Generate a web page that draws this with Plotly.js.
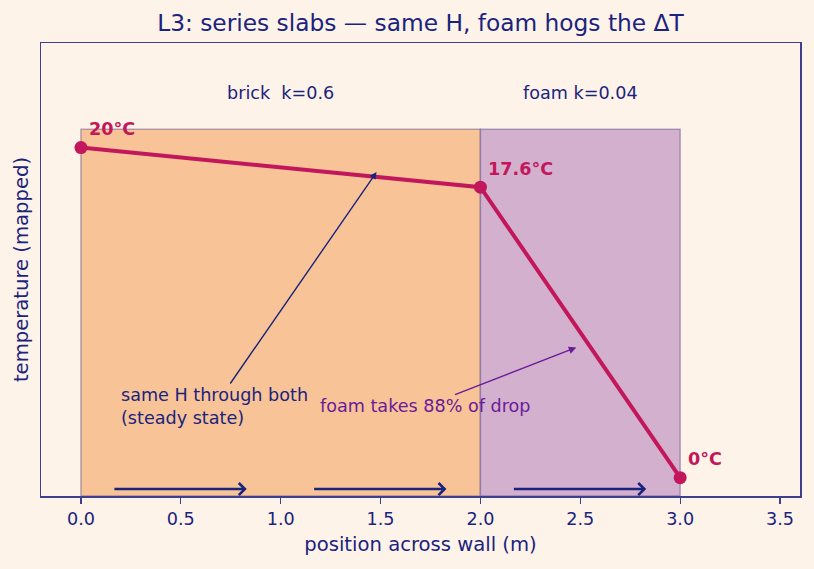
<!DOCTYPE html>
<html>
<head>
<meta charset="utf-8">
<script src="https://cdn.plot.ly/plotly-3.0.1.min.js"></script>
<style>html,body{margin:0;padding:0;background:#fef3e9;}#chart{width:814px;height:569px;}</style>
</head>
<body>
<div id="chart"></div>
<script>
// ---- data ----
const positions = [0, 2, 3];            // m across wall
const temps = [20, 17.6, 0];            // °C at interfaces
const tempLabels = ['20°C', '17.6°C', '0°C'];
const slabNames = ['brick\u00a0 k=0.6', 'foam k=0.04'];
const slabStart = [0, 2];
const slabEnd = [2, 3];
const xTicks = [0, 0.5, 1, 1.5, 2, 2.5, 3, 3.5];
const xTickText = ['0.0', '0.5', '1.0', '1.5', '2.0', '2.5', '3.0', '3.5'];

// ---- styling ----
const NAVY = '#1a237e';
const BG = '#fef3e9';
const LINE = '#c2185b';
const PURPLE = '#6a1b9a';
const slabFill = ['#f8c497', '#d4b0cf'];
const font = 'DejaVu Sans, sans-serif';
const FS = 17.6;

const mapT = t => 0.05 + 0.9 * t / 20;
const ys = temps.map(mapT);

const shapes = slabStart.map((s, i) => ({
  type: 'rect', xref: 'x', yref: 'y', x0: s, x1: slabEnd[i], y0: 0, y1: 1,
  fillcolor: slabFill[i], line: {color: 'rgba(90,70,140,0.45)', width: 1.5}, layer: 'below'
}));

const annotations = [];
slabNames.forEach((n, i) => annotations.push({
  xref: 'x', yref: 'y', x: (slabStart[i] + slabEnd[i]) / 2, y: 1.1, text: n, showarrow: false,
  font: {family: font, size: FS, color: NAVY}, xanchor: 'center', yanchor: 'middle'
}));
positions.forEach((p, i) => annotations.push({
  xref: 'x', yref: 'y', x: p + 0.03, y: ys[i] + 0.05, text: '<b>' + tempLabels[i] + '</b>', showarrow: false,
  font: {family: font, size: FS, color: LINE}, xanchor: 'left', yanchor: 'middle'
}));
// heat-flow arrows
[0, 1, 2].forEach(k => annotations.push({
  xref: 'x', yref: 'y', axref: 'x', ayref: 'y', x: k + 0.83, y: 0.019, ax: k + 0.16, ay: 0.019,
  text: '', showarrow: true, arrowhead: 4, arrowsize: 0.9, arrowwidth: 2.6, arrowcolor: NAVY, standoff: 0
}));
annotations.push({
  xref: 'x', yref: 'y', axref: 'x', ayref: 'y', x: 1.48, y: 0.883, ax: 0.668, ay: 0.244,
  text: '<span style="line-height:1">same H through both<br>(steady state)</span>', align: 'left', xanchor: 'center', yanchor: 'middle',
  showarrow: true, arrowhead: 2, arrowsize: 1, arrowwidth: 1.4, arrowcolor: NAVY,
  font: {family: font, size: FS, color: NAVY}
});
annotations.push({
  xref: 'x', yref: 'y', axref: 'x', ayref: 'y', x: 2.48, y: 0.405, ax: 1.725, ay: 0.245,
  text: 'foam takes 88% of drop', xanchor: 'center', yanchor: 'middle',
  showarrow: true, arrowhead: 2, arrowsize: 1, arrowwidth: 1.5, arrowcolor: PURPLE,
  font: {family: font, size: FS, color: PURPLE}
});

const trace = {
  x: positions, y: ys, type: 'scatter', mode: 'lines+markers',
  line: {color: LINE, width: 4}, marker: {color: LINE, size: 13}, hoverinfo: 'skip'
};

const layout = {
  width: 814, height: 569,
  paper_bgcolor: BG, plot_bgcolor: BG,
  margin: {l: 41, r: 14, t: 43, b: 73},
  showlegend: false,
  font: {family: font, color: NAVY},
  title: {text: 'L3: series slabs — same H, foam hogs the ΔT', font: {family: font, size: 23.3, color: NAVY},
          x: 0.5165, xanchor: 'center', y: 0.96, yanchor: 'middle'},
  xaxis: {
    range: [-0.2, 3.6], tickvals: xTicks, ticktext: xTickText, ticks: 'outside', ticklen: 6, tickwidth: 1.3,
    tickcolor: '#3d3f8f', tickfont: {family: font, size: FS, color: NAVY},
    showgrid: false, zeroline: false, showline: true, mirror: true, linecolor: '#3d3f8f', linewidth: 1.5,
    title: {text: 'position across wall (m)', font: {family: font, size: 19.6, color: NAVY}, standoff: 9}
  },
  yaxis: {
    range: [0, 1.235], showticklabels: false, ticks: '',
    showgrid: false, zeroline: false, showline: true, mirror: true, linecolor: '#3d3f8f', linewidth: 1.5,
    title: {text: 'temperature (mapped)', font: {family: font, size: 19.6, color: NAVY}, standoff: 5}
  },
  shapes: shapes,
  annotations: annotations
};

Plotly.newPlot('chart', [trace], layout, {displayModeBar: false, staticPlot: true});
</script>
</body>
</html>
